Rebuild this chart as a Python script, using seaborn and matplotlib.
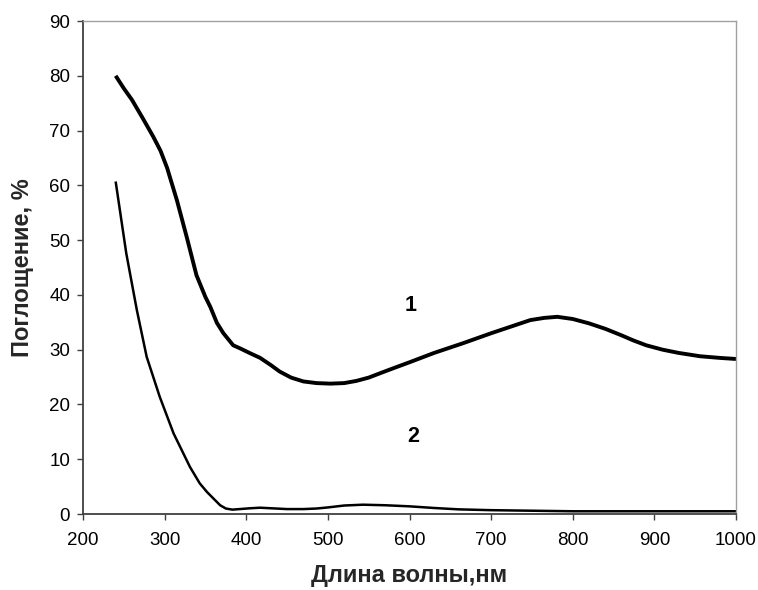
import matplotlib
matplotlib.use("Agg")
import matplotlib.pyplot as plt
import seaborn as sns
import pandas as pd

# Curve 1
wl1 = [240, 250, 260, 273, 286, 295, 303, 315, 327, 339, 350, 356, 364, 372, 384, 393, 404, 417, 430, 441, 455, 470, 486, 503,
       520, 535, 550, 564, 580, 600, 630, 666, 700, 730, 748, 765, 781, 800, 820, 840, 860, 874, 890, 910, 930, 956, 980, 1000]
abs1 = [80.0, 77.7, 75.6, 72.3, 68.9, 66.3, 63.2, 57.3, 50.6, 43.6, 39.6, 37.8, 34.9, 33.0, 30.8, 30.2, 29.4, 28.5, 27.2, 26.0, 24.9, 24.2, 23.9, 23.8,
        23.9, 24.3, 24.9, 25.7, 26.6, 27.7, 29.4, 31.2, 33.0, 34.5, 35.4, 35.8, 36.0, 35.6, 34.8, 33.8, 32.6, 31.7, 30.8, 30.0, 29.4, 28.8, 28.5, 28.3]

# Curve 2
wl2 = [240, 253, 266, 278, 294, 311, 331, 343, 352, 360, 368, 375, 383, 392, 405, 417, 430, 450, 470, 486, 500, 520, 543, 570, 600, 630,
       660, 700, 750, 800, 900, 1000]
abs2 = [60.7, 47.6, 37.2, 28.7, 21.4, 14.7, 8.6, 5.6, 4.0, 2.8, 1.6, 1.0, 0.8, 0.9, 1.05, 1.15, 1.05, 0.9, 0.9, 1.0, 1.2, 1.55, 1.7, 1.6, 1.4, 1.1,
        0.85, 0.7, 0.6, 0.5, 0.5, 0.5]

labels = ["1", "2"]
label_x = [601, 604]
label_y = [38.1, 14.1]

x_ticks = [200, 300, 400, 500, 600, 700, 800, 900, 1000]
y_ticks = [0, 10, 20, 30, 40, 50, 60, 70, 80, 90]

sns.set_theme(style="white")
plt.rcParams["font.family"] = ["Liberation Sans", "DejaVu Sans"]

df1 = pd.DataFrame({"wl": wl1, "a": abs1})
df2 = pd.DataFrame({"wl": wl2, "a": abs2})

fig = plt.figure(figsize=(7.58, 5.90), dpi=100)
ax = fig.add_axes([0.1095, 0.1288, 0.8615, 0.8356])

sns.lineplot(data=df1, x="wl", y="a", ax=ax, color="black", linewidth=2.8, sort=False)
sns.lineplot(data=df2, x="wl", y="a", ax=ax, color="black", linewidth=1.8, sort=False)
for ln in ax.lines:
    ln.set_solid_joinstyle("round")
    ln.set_solid_capstyle("butt")

for t, xx, yy in zip(labels, label_x, label_y):
    ax.text(xx, yy, t, fontsize=15.5, fontweight="bold", ha="center", va="center", color="black")

ax.set_xlim(200, 1000)
ax.set_ylim(0, 90)
ax.set_xticks(x_ticks)
ax.set_yticks(y_ticks)
ax.tick_params(axis="both", direction="out", length=4.3, width=1, color="#404040",
               labelsize=13.5, labelcolor="black", bottom=True, left=True)
ax.tick_params(axis="x", pad=9)
ax.tick_params(axis="y", pad=5)
ax.set_xlabel("Длина волны,нм", fontsize=17, fontweight="bold")
ax.set_ylabel("Поглощение, %", fontsize=17, fontweight="bold")
ax.xaxis.set_label_coords(0.5, -0.1024)
ax.yaxis.set_label_coords(-0.092, 0.5)
ax.xaxis.label.set_va("top")
ax.yaxis.label.set_va("center")

for s in ["left", "bottom"]:
    ax.spines[s].set_color("#404040")
    ax.spines[s].set_linewidth(1.3)
for s in ["top", "right"]:
    ax.spines[s].set_color("#a0a0a0")
    ax.spines[s].set_linewidth(1.0)
ax.grid(False)

fig.savefig("out.png", dpi=100)
